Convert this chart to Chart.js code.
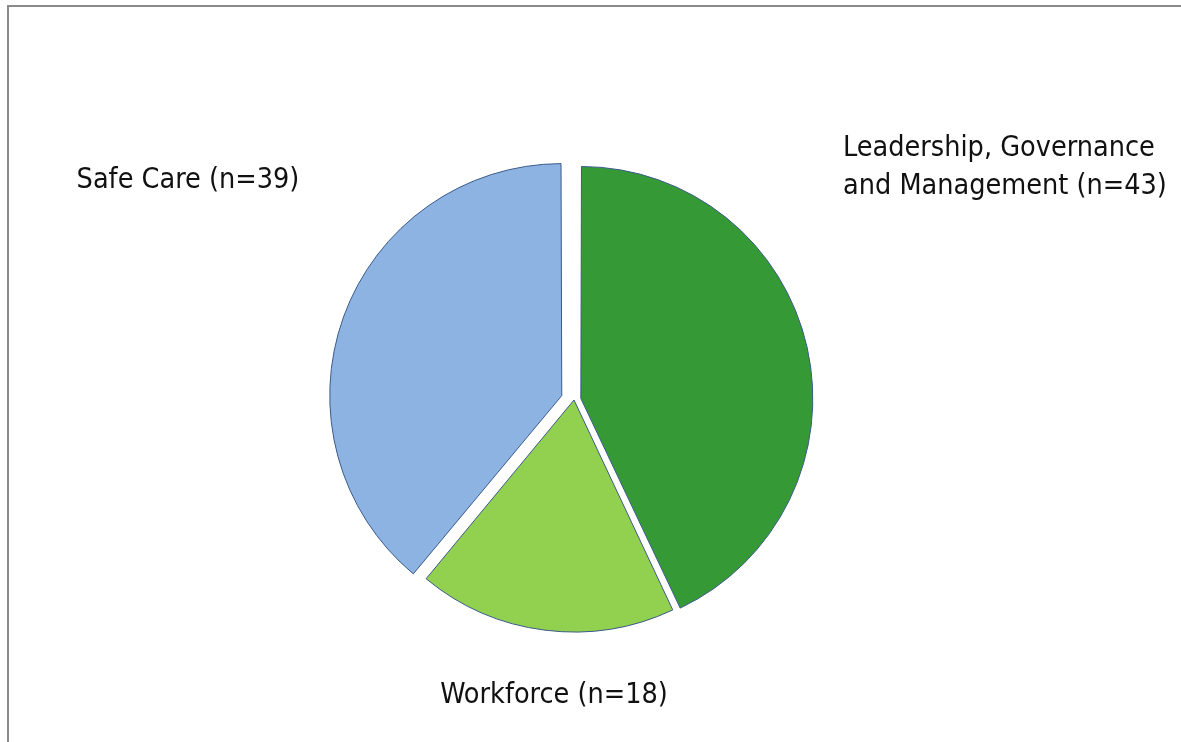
<!DOCTYPE html>
<html>
<head>
<meta charset="utf-8">
<title>Findings by domain</title>
<script src="https://cdn.jsdelivr.net/npm/chart.js@4/dist/chart.umd.min.js"></script>
<style>
  html, body { margin: 0; padding: 0; background: #fff; overflow: hidden; }
  #frame {
    position: absolute; left: 7px; top: 5px; width: 1200px; height: 760px;
    border-left: 2px solid #8a8a8a; border-top: 2px solid #8a8a8a;
    box-sizing: border-box;
  }
  #chart { position: absolute; left: 0; top: 0; }
</style>
</head>
<body>
<div id="frame"></div>
<canvas id="chart" width="1181" height="742"></canvas>
<script>
// category names and counts, clockwise from 12 o'clock
var categories = ['Leadership, Governance and Management', 'Workforce', 'Safe Care'];
var counts = [43, 18, 39];
var sliceColors = ['#359a35', '#92d050', '#8db3e2'];

// label text, split where the line breaks
var labelLines = [
  ['Leadership, Governance', 'and Management (n=' + counts[0] + ')'],
  ['Workforce (n=' + counts[1] + ')'],
  ['Safe Care (n=' + counts[2] + ')']
];

var labelFont = '28.5px "DejaVu Sans Condensed", "DejaVu Sans", sans-serif';

// where each label block sits: x, first baseline, alignment
var labelPlaces = [
  { x: 843, y: 156, align: 'left' },
  { x: 554, y: 703, align: 'center' },
  { x: 188, y: 188, align: 'center' }
];

var pieRadius = 232;
// how far each slice is pulled out from the centre, in px
var sliceShift = [7, 0, 13];

// Chart.js moves an arc by offset/4 but also grows its radius;
// undo the growth so every slice keeps the same radius
var keepRadius = {
  id: 'keepRadius',
  afterUpdate: function (chart) {
    var arcs = chart.getDatasetMeta(0).data;
    for (var i = 0; i < arcs.length; i++) {
      var fix = 1 - Math.sin(Math.min(Math.PI, arcs[i].circumference || 0));
      arcs[i].outerRadius = pieRadius - sliceShift[i] * fix;
    }
  }
};

var sliceLabels = {
  id: 'sliceLabels',
  afterDraw: function (chart) {
    var ctx = chart.ctx;
    ctx.save();
    ctx.font = labelFont;
    ctx.fillStyle = '#111';
    ctx.textBaseline = 'alphabetic';
    for (var i = 0; i < labelLines.length; i++) {
      var place = labelPlaces[i];
      ctx.textAlign = place.align;
      for (var j = 0; j < labelLines[i].length; j++) {
        ctx.fillText(labelLines[i][j], place.x, place.y + j * 38);
      }
    }
    ctx.restore();
  }
};

new Chart(document.getElementById('chart').getContext('2d'), {
  type: 'pie',
  data: {
    labels: categories,
    datasets: [{
      data: counts,
      backgroundColor: sliceColors,
      borderColor: '#3b5a8a',
      borderWidth: 1,
      offset: sliceShift.map(function (s) { return s * 4; })
    }]
  },
  options: {
    responsive: false,
    animation: false,
    radius: pieRadius,
    layout: { padding: { left: 0, right: 33, top: 58, bottom: 0 } },
    plugins: {
      legend: { display: false },
      tooltip: { enabled: false }
    }
  },
  plugins: [keepRadius, sliceLabels]
});
</script>
</body>
</html>
